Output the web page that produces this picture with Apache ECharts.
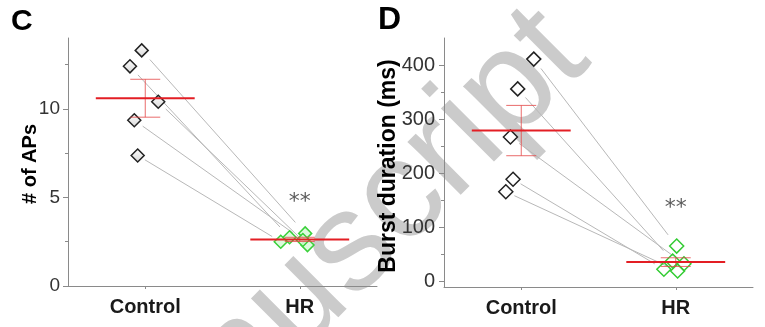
<!DOCTYPE html>
<html>
<head>
<meta charset="utf-8">
<script src="https://cdn.jsdelivr.net/npm/echarts@6/dist/echarts.min.js"></script>
<style>html,body{margin:0;padding:0;background:#fff}#c{width:765px;height:327px}</style>
</head>
<body>
<div id="c"></div>
<script>
// ---------- data ----------
const categories = ['Control', 'HR'];
// Panel C: # of APs (paired)
const apControl = [13.3, 12.4, 10.4, 9.36, 7.37];
const apControlX = [0.977, 0.901, 1.084, 0.929, 0.951];
const apHR = [2.97, 2.75, 2.31, 2.6, 2.5];
const apHRX = [2.035, 1.934, 2.05, 2.02, 1.877];
const apMean = [10.6, 2.63];
const apSEM = [1.07, 0.12];
const apTicks = [0, 5, 10];
const apMinorTicks = [2.5, 7.5, 12.5];
// Panel D: Burst duration (ms) (paired)
const bdControl = [411, 356, 267, 189, 166];
const bdControlX = [1.081, 0.977, 0.930, 0.947, 0.900];
const bdHR = [65.6, 38, 33, 22.7, 19.5];
const bdHRX = [2.006, 1.98, 2.053, 1.923, 2.012];
const bdMean = [279, 36];
const bdSEM = [46.5, 8];
const bdTicks = [0, 100, 200, 300, 400];
const bdMinorTicks = [50, 150, 250, 350];
const sigLabel = '**';
const sigY = [4.75, 136];

// ---------- styling ----------
const FONT = 'Liberation Sans, Arial, sans-serif';
const AXIS_COL = '#8a8a8a';
const PAIR_COL = '#b8b8b8';
const MEAN_COL = '#e31e24';
const ERR_COL = 'rgba(228,70,70,0.8)';

function xAxisDef(grid) {
  return {
    gridIndex: grid, type: 'value', min: 0.5, max: 2.5,
    axisLine: { show: true, onZero: false, lineStyle: { color: AXIS_COL, width: 1 } },
    axisTick: { show: true, customValues: [1, 2], length: 3, lineStyle: { color: AXIS_COL } },
    axisLabel: { customValues: [1, 2], margin: 11, formatter: v => categories[Math.round(v) - 1],
      color: '#1a1a1a', fontWeight: 'bold', fontSize: 20, fontFamily: FONT },
    splitLine: { show: false }
  };
}
function yAxisDef(grid, min, max, ticks, fs, margin) {
  return {
    gridIndex: grid, type: 'value', min: min, max: max, position: 'left',
    axisLine: { show: true, lineStyle: { color: AXIS_COL, width: 1 } },
    axisTick: { show: true, customValues: ticks, length: 5, lineStyle: { color: AXIS_COL } },
    axisLabel: { customValues: ticks, margin: margin, color: '#333', fontSize: fs, fontFamily: FONT },
    splitLine: { show: false }
  };
}
function yMinorDef(grid, min, max, ticks) {
  return {
    gridIndex: grid, type: 'value', min: min, max: max, position: 'left', offset: 0,
    axisLine: { show: false },
    axisTick: { show: true, customValues: ticks, length: 3, lineStyle: { color: AXIS_COL } },
    axisLabel: { show: false },
    splitLine: { show: false }
  };
}
function seg(xi, yi, pts, color, width, z) {
  return { type: 'line', xAxisIndex: xi, yAxisIndex: yi, data: pts, symbol: 'none', silent: true,
    lineStyle: { color: color, width: width }, z: z, animation: false };
}
function pairLines(xi, yi, cx, cy, hx, hy) {
  const a = 0.05, b = 0.94;
  return cy.map((v, i) => seg(xi, yi, [
    [cx[i] + a * (hx[i] - cx[i]), v + a * (hy[i] - v)],
    [cx[i] + b * (hx[i] - cx[i]), v + b * (hy[i] - v)]
  ], PAIR_COL, 1, 2));
}
function meanErr(xi, yi, means, sems) {
  const out = [];
  means.forEach((m, i) => {
    const x = i + 1, hw = 0.32, cw = 0.097;
    out.push(seg(xi, yi, [[x, m - sems[i]], [x, m + sems[i]]], ERR_COL, 1, 5));
    out.push(seg(xi, yi, [[x - cw, m + sems[i]], [x + cw, m + sems[i]]], ERR_COL, 1, 5));
    out.push(seg(xi, yi, [[x - cw, m - sems[i]], [x + cw, m - sems[i]]], ERR_COL, 1, 5));
    out.push(seg(xi, yi, [[x - hw, m], [x + hw, m]], MEAN_COL, 2, 6));
  });
  return out;
}
function scatter(xi, yi, xs, ys, border, fill, size) {
  return { type: 'scatter', xAxisIndex: xi, yAxisIndex: yi, symbol: 'diamond', symbolSize: size,
    data: ys.map((v, i) => [xs[i], v]), z: 4, silent: true, animation: false,
    itemStyle: { color: fill, borderColor: border, borderWidth: 1.5, opacity: 1 } };
}
function sig(xi, yi, y) {
  return { type: 'scatter', xAxisIndex: xi, yAxisIndex: yi, symbolSize: 0, data: [[2, y]], z: 6, silent: true,
    animation: false,
    label: { show: true, position: 'inside', formatter: sigLabel, color: '#333', fontSize: 22,
      fontFamily: 'DejaVu Sans, sans-serif' } };
}

const ctrlFill = new echarts.graphic.LinearGradient(0, 0, 0, 1, [
  { offset: 0, color: '#ffffff' }, { offset: 1, color: '#d8d8d8' }]);

const series = [].concat(
  pairLines(0, 0, apControlX, apControl, apHRX, apHR),
  pairLines(1, 1, bdControlX, bdControl, bdHRX, bdHR),
  [scatter(0, 0, apControlX, apControl, '#222', ctrlFill, 13),
   scatter(0, 0, apHRX, apHR, '#3ad03a', 'rgba(215,250,215,0.85)', 13),
   scatter(1, 1, bdControlX, bdControl, '#222', '#ffffff', 14),
   scatter(1, 1, bdHRX, bdHR, '#33cc33', 'rgba(255,255,255,0)', 14)],
  meanErr(0, 0, apMean, apSEM),
  meanErr(1, 1, bdMean, bdSEM),
  [sig(0, 0, sigY[0]), sig(1, 1, sigY[1])]
);

const chart = echarts.init(document.getElementById('c'), null, { renderer: 'canvas' });
chart.setOption({
  animation: false,
  backgroundColor: '#fff',
  grid: [
    { left: 68, top: 38, width: 309, height: 248, containLabel: false, outerBoundsMode: 'none' },
    { left: 444, top: 38, width: 309, height: 249, containLabel: false, outerBoundsMode: 'none' }
  ],
  xAxis: [xAxisDef(0), xAxisDef(1)],
  yAxis: [
    yAxisDef(0, 0, 14, apTicks, 19, 8),
    yAxisDef(1, -10, 450, bdTicks, 20, 9),
    yMinorDef(0, 0, 14, apMinorTicks),
    yMinorDef(1, -10, 450, bdMinorTicks)
  ],
  graphic: [
    { type: 'text', x: 320, y: 280, rotation: Math.PI / 4, z: -10, silent: true,
      style: { text: 'Manuscript', font: '142px ' + FONT, fill: '#cbcbcb', align: 'center', verticalAlign: 'middle' } },
    { type: 'text', x: 11, y: 22, z: 10, style: { text: 'C', font: 'bold 30px ' + FONT, fill: '#000', align: 'left', verticalAlign: 'middle' } },
    { type: 'text', x: 378, y: 20, z: 10, style: { text: 'D', font: 'bold 32px ' + FONT, fill: '#000', align: 'left', verticalAlign: 'middle' } },
    { type: 'text', x: 30, y: 164, rotation: Math.PI / 2, z: 10,
      style: { text: '# of APs', font: 'bold 20px ' + FONT, fill: '#000', align: 'center', verticalAlign: 'middle' } },
    { type: 'text', x: 389, y: 166, rotation: Math.PI / 2, z: 10,
      style: { text: 'Burst duration (ms)', font: 'bold 23px ' + FONT, fill: '#000', align: 'center', verticalAlign: 'middle' } }
  ],
  series: series
});
</script>
</body>
</html>
